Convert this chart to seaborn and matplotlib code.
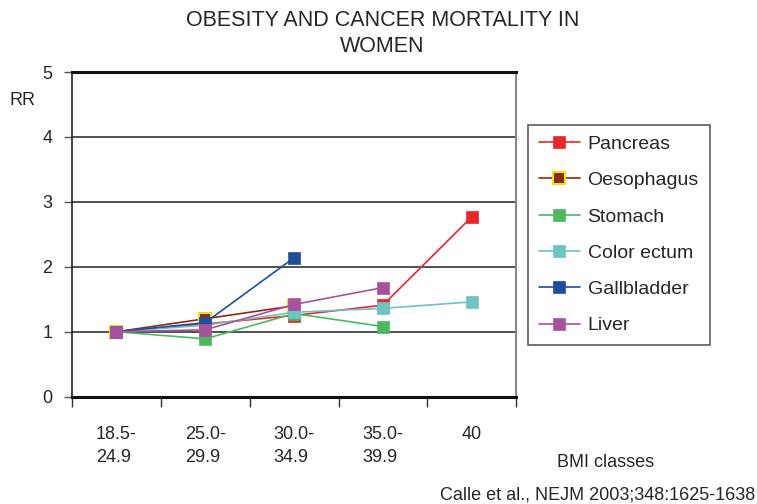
import numpy as np
import pandas as pd
import seaborn as sns
import matplotlib.pyplot as plt

sns.set_style('white')
plt.rcParams['font.family'] = ['Liberation Sans', 'DejaVu Sans']

# data
bmi_classes = ['18.5-\n24.9', '25.0-\n29.9', '30.0-\n34.9', '35.0-\n39.9', '40']
pancreas = [1.0, 1.12, 1.25, 1.41, 2.77]
oesophagus = [1.0, 1.2, 1.4, np.nan, np.nan]
stomach = [1.0, 0.89, 1.28, 1.08, np.nan]
colorectum = [1.0, 1.1, 1.3, 1.36, 1.46]
gallbladder = [1.0, 1.14, 2.14, np.nan, np.nan]
liver = [1.0, 1.03, 1.42, 1.68, np.nan]

series = {
    'Pancreas': pancreas,
    'Oesophagus': oesophagus,
    'Stomach': stomach,
    'Color ectum': colorectum,
    'Gallbladder': gallbladder,
    'Liver': liver,
}
colors = {
    'Pancreas': '#e8262b',
    'Oesophagus': '#8b2c12',
    'Stomach': '#4cb860',
    'Color ectum': '#6cc5c1',
    'Gallbladder': '#1f4e9e',
    'Liver': '#a8529e',
}
edges = dict(colors)
edges['Oesophagus'] = '#e6e020'

fig = plt.figure(figsize=(7.57, 5.04), dpi=100)
ax = fig.add_axes([0.095, 0.213, 0.587, 0.644])

for name, vals in series.items():
    df = pd.DataFrame({'pos': np.arange(len(bmi_classes)), 'rr': vals}).dropna()
    sns.lineplot(data=df, x='pos', y='rr', ax=ax, color=colors[name], lw=1.2,
                 marker='s', markersize=9, markeredgecolor=edges[name],
                 markeredgewidth=1.5 if name == 'Oesophagus' else 0.5, label=name)

ax.set_xlim(-0.5, 4.5)
ax.set_ylim(0, 5)
ax.set_yticks(range(6))
ax.tick_params(axis='y', labelsize=13, length=6, width=1, left=True,
               color='#555555', pad=8)
ax.set_xticks(range(5))
ax.set_xticklabels(bmi_classes, fontsize=13, linespacing=1.5,
                   multialignment='left')
ax.tick_params(axis='x', length=0, pad=21)
ax.set_xticks(np.arange(-0.5, 5, 1), minor=True)
ax.tick_params(axis='x', which='minor', length=7, width=1, bottom=True, color='#333333')
ax.set_xlabel('')
ax.set_ylabel('')

for y in range(1, 5):
    ax.axhline(y, color='#333333', lw=1.2, zorder=0)
ax.spines['bottom'].set_linewidth(2.2)
ax.spines['bottom'].set_color('#111111')
ax.spines['top'].set_linewidth(2.2)
ax.spines['top'].set_color('#111111')
ax.spines['left'].set_linewidth(1.2)
ax.spines['left'].set_color('#222222')
ax.spines['right'].set_linewidth(1.5)
ax.spines['right'].set_color('#888888')

leg = ax.legend(loc='upper left', bbox_to_anchor=(1.027, 0.838), fontsize=14,
                frameon=True, fancybox=False, edgecolor='#333333',
                handlelength=2.1, handletextpad=0.4, labelspacing=0.96,
                borderpad=0.55, borderaxespad=0)
leg.get_frame().set_linewidth(1.2)

fig.text(0.505, 0.933, 'OBESITY AND CANCER MORTALITY IN\nWOMEN', ha='center',
         va='center', fontsize=15.5, linespacing=1.3)
fig.text(0.03, 0.80, 'RR', ha='center', va='center', fontsize=13)
fig.text(0.80, 0.082, 'BMI classes', ha='center', va='center', fontsize=13)
fig.text(0.998, 0.018, 'Calle et al., NEJM 2003;348:1625-1638', ha='right',
         va='center', fontsize=13)

fig.savefig('out.png', dpi=100)
